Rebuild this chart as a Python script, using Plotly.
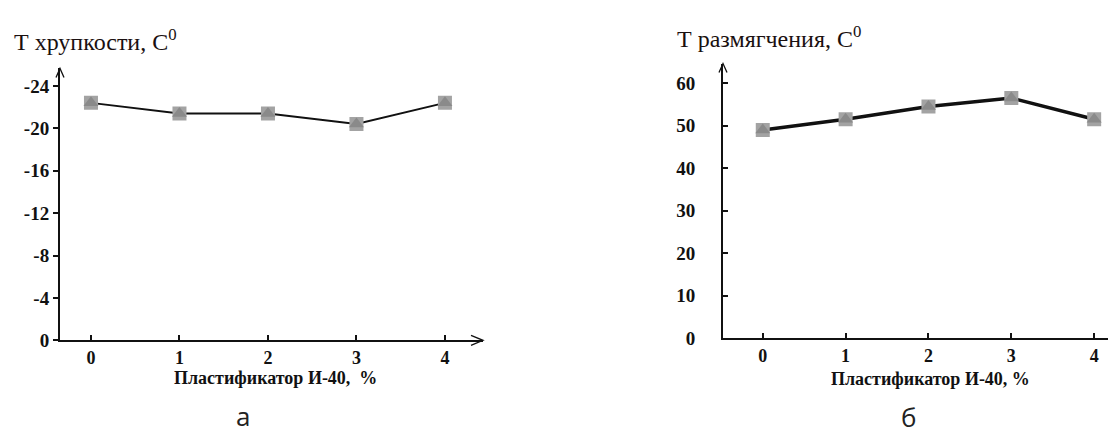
import plotly.graph_objects as go

# ---- data ----
plasticizer = [0, 1, 2, 3, 4]
t_brittle = [-22.4, -21.4, -21.4, -20.4, -22.4]
t_soft = [49.0, 51.5, 54.5, 56.5, 51.5]

left_yticks = [0, -4, -8, -12, -16, -20, -24]
right_yticks = [0, 10, 20, 30, 40, 50, 60]
x_ticks = [0, 1, 2, 3, 4]

left_ytitle = "Т хрупкости, С<sup>0</sup>"
right_ytitle = "Т размягчения, С<sup>0</sup>"
left_xtitle = "Пластификатор И-40,  %"
right_xtitle = "Пластификатор И-40, %"
panel_labels = ["а", "б"]

W, H = 1116, 433
def px(x):
    return x / W
def py(y):
    return 1 - y / H

SERIF = "Liberation Serif"
SQ = "#a3a3a3"
TRI = "#8a8a8a"

fig = go.Figure()

for xa, ya, yvals, lw in [("x", "y", t_brittle, 2), ("x2", "y2", t_soft, 3.5)]:
    fig.add_trace(go.Scatter(x=plasticizer, y=yvals, xaxis=xa, yaxis=ya, mode="lines",
                             line=dict(color="#111111", width=lw), showlegend=False, hoverinfo="skip"))
    fig.add_trace(go.Scatter(x=plasticizer, y=yvals, xaxis=xa, yaxis=ya, mode="markers",
                             marker=dict(symbol="square", size=14, color=SQ), showlegend=False))
    fig.add_trace(go.Scatter(x=plasticizer, y=yvals, xaxis=xa, yaxis=ya, mode="markers",
                             marker=dict(symbol="triangle-up", size=13, color=TRI), showlegend=False))

tf = dict(family=SERIF, size=18, color="#111111", weight="bold")
common_x = dict(showgrid=False, zeroline=False, showline=True, linecolor="#111111", linewidth=2,
                tickmode="array", tickvals=x_ticks, ticktext=[str(v) for v in x_ticks],
                ticks="inside", ticklen=5, tickwidth=1.5, tickcolor="#111111", tickfont=tf)
common_y = dict(showgrid=False, zeroline=False, showline=True, linecolor="#111111", linewidth=2,
                tickmode="array", ticklen=5, tickwidth=1.5, tickcolor="#111111",
                tickfont=dict(tf, size=19))

fig.update_layout(
    width=W, height=H, margin=dict(l=0, r=0, t=0, b=0),
    paper_bgcolor="white", plot_bgcolor="white",
    xaxis=dict(common_x, domain=[px(52), px(475)], range=[-0.35, 4.43], anchor="y"),
    yaxis=dict(common_y, domain=[py(341), py(62)], range=[0, -25.65], anchor="x",
               tickvals=left_yticks, ticktext=[str(v) for v in left_yticks], ticks="outside"),
    xaxis2=dict(common_x, domain=[px(715), 1.0], range=[-0.48, 4.36], anchor="y2"),
    yaxis2=dict(common_y, domain=[py(339), py(57)], range=[0, 64.6], anchor="x2",
                tickvals=right_yticks, ticktext=[str(v) for v in right_yticks], ticks="inside",
                ticklabelstandoff=22),
)

# axis arrow chevrons
for xd, yd in [("x domain", "y domain"), ("x2 domain", "y2 domain")]:
    fig.add_shape(type="path", xref=xd, yref=yd, xsizemode="pixel", ysizemode="pixel",
                  xanchor=1, yanchor=0, path="M -12,5 L 0,0 L -12,-5",
                  line=dict(color="#111111", width=1.3))
    fig.add_shape(type="path", xref=xd, yref=yd, xsizemode="pixel", ysizemode="pixel",
                  xanchor=0, yanchor=1, path="M -4,-9 L 0,0 L 4,-9",
                  line=dict(color="#111111", width=1.3))

ann = []
ann.append(dict(x=px(4), y=py(33), text=left_ytitle, xanchor="left", yanchor="middle",
                font=dict(family=SERIF, size=24, color="#1a1010")))
ann.append(dict(x=px(667), y=py(30), text=right_ytitle, xanchor="left", yanchor="middle",
                font=dict(family=SERIF, size=24, color="#1a1010")))
ann.append(dict(x=px(267), y=py(380), text=left_xtitle, xanchor="center", yanchor="middle",
                font=dict(family=SERIF, size=18, color="#111111", weight="bold")))
ann.append(dict(x=px(922), y=py(381), text=right_xtitle, xanchor="center", yanchor="middle",
                font=dict(family=SERIF, size=18, color="#111111", weight="bold")))
ann.append(dict(x=px(235), y=py(419), text=panel_labels[0], xanchor="center", yanchor="middle",
                font=dict(family="Open Sans", size=26, color="#222222")))
ann.append(dict(x=px(900), y=py(420), text=panel_labels[1], xanchor="center", yanchor="middle",
                font=dict(family="Open Sans", size=26, color="#222222")))
for a in ann:
    a.update(xref="paper", yref="paper", showarrow=False)
fig.update_layout(annotations=ann)

fig.write_html("out.html")
